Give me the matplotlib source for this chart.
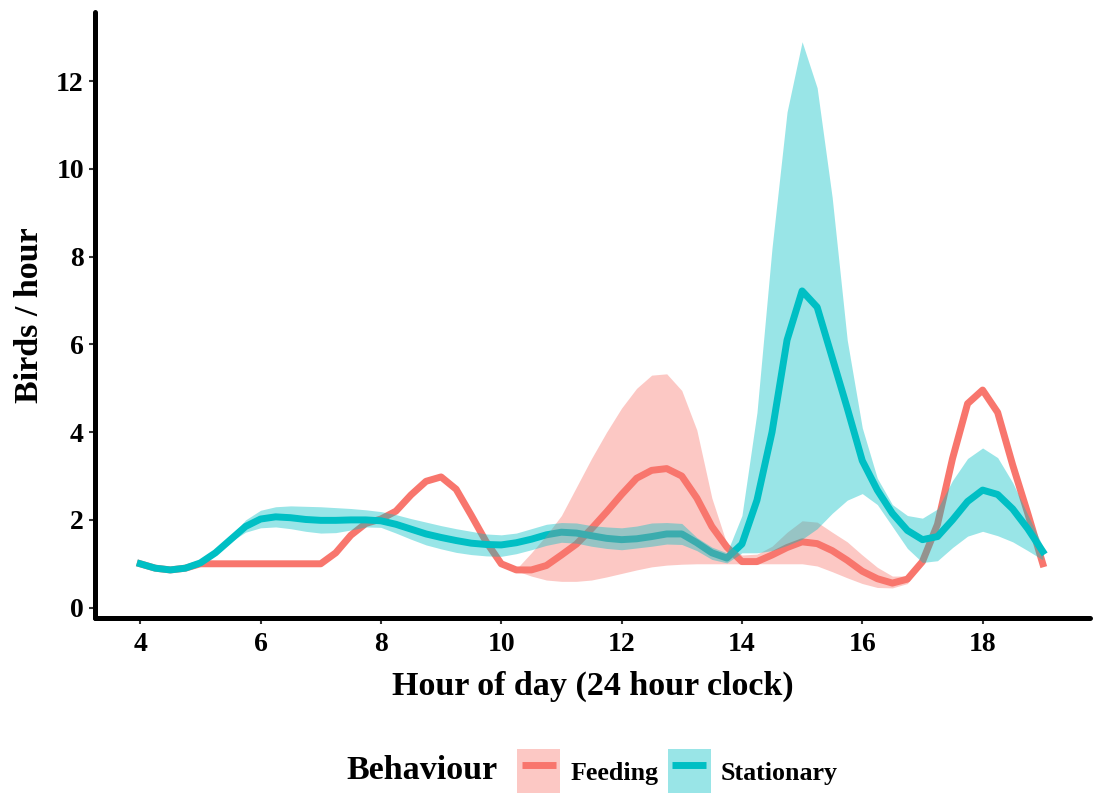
import numpy as np
import matplotlib.pyplot as plt
from matplotlib.patches import Patch
from matplotlib.lines import Line2D
from matplotlib.legend_handler import HandlerLine2D, HandlerTuple

############### Data (0.25 h steps)
hours = np.arange(4, 19.01, 0.25)

feeding = [1.0, 0.9, 0.86, 0.9, 1.0, 1.0, 1.0, 1.0, 1.0, 1.0, 1.0, 1.0,
           1.0, 1.25, 1.65, 1.92, 2.02, 2.2, 2.57, 2.88, 2.98, 2.7, 2.11, 1.5,
           1.0, 0.86, 0.86, 0.96, 1.2, 1.45, 1.8, 2.18, 2.58, 2.95, 3.13, 3.17,
           3.0, 2.5, 1.85, 1.38, 1.05, 1.05, 1.2, 1.37, 1.5, 1.46, 1.3, 1.08,
           0.83, 0.66, 0.56, 0.65, 1.05, 1.9, 3.4, 4.65, 4.96, 4.45, 3.25, 2.15,
           1.0]
feeding_hi = [1.0, 0.9, 0.86, 0.9, 1.0, 1.0, 1.0, 1.0, 1.0, 1.0, 1.0, 1.0,
              1.0, 1.25, 1.65, 1.92, 2.02, 2.2, 2.57, 2.88, 2.98, 2.7, 2.11, 1.5,
              1.0, 0.88, 1.25, 1.65, 2.1, 2.75, 3.4, 4.0, 4.55, 5.0, 5.3, 5.33,
              4.95, 4.05, 2.5, 1.45, 1.2, 1.22, 1.4, 1.72, 1.98, 1.95, 1.72, 1.5,
              1.2, 0.92, 0.72, 0.72, 1.05, 1.9, 3.4, 4.65, 4.96, 4.45, 3.25, 2.15,
              1.0]
feeding_lo = [1.0, 0.9, 0.86, 0.9, 1.0, 1.0, 1.0, 1.0, 1.0, 1.0, 1.0, 1.0,
              1.0, 1.25, 1.65, 1.92, 2.02, 2.2, 2.57, 2.88, 2.98, 2.7, 2.11, 1.5,
              1.0, 0.84, 0.72, 0.63, 0.6, 0.6, 0.63, 0.7, 0.78, 0.86, 0.93, 0.97,
              0.99, 1.0, 1.0, 1.0, 1.0, 1.0, 1.0, 1.0, 1.0, 0.95, 0.82, 0.68,
              0.55, 0.46, 0.45, 0.55, 1.05, 1.9, 3.4, 4.65, 4.96, 4.45, 3.25, 2.15,
              1.0]

stationary = [1.0, 0.9, 0.86, 0.9, 1.02, 1.25, 1.55, 1.85, 2.02, 2.07, 2.05, 2.01,
              1.99, 1.99, 2.0, 2.0, 1.98, 1.9, 1.79, 1.68, 1.6, 1.53, 1.47, 1.44,
              1.43, 1.48, 1.56, 1.66, 1.72, 1.7, 1.64, 1.58, 1.55, 1.57, 1.62, 1.68,
              1.68, 1.48, 1.25, 1.13, 1.45, 2.45, 4.0, 6.1, 7.22, 6.85, 5.7, 4.55,
              3.35, 2.68, 2.15, 1.76, 1.55, 1.62, 2.0, 2.42, 2.68, 2.58, 2.25, 1.8,
              1.28]
stationary_hi = [1.0, 0.9, 0.86, 0.9, 1.02, 1.25, 1.6, 2.0, 2.22, 2.3, 2.32, 2.31,
                 2.3, 2.28, 2.26, 2.23, 2.19, 2.12, 2.03, 1.95, 1.87, 1.8, 1.74, 1.68,
                 1.66, 1.7, 1.8, 1.9, 1.94, 1.93, 1.87, 1.84, 1.82, 1.86, 1.93, 1.94,
                 1.92, 1.6, 1.38, 1.25, 2.1, 4.45, 8.2, 11.3, 12.9, 11.85, 9.35, 6.1,
                 4.1, 2.95, 2.35, 2.1, 2.04, 2.25, 2.9, 3.4, 3.64, 3.42, 2.85, 2.12,
                 1.4]
stationary_lo = [1.0, 0.9, 0.86, 0.9, 1.02, 1.25, 1.5, 1.72, 1.82, 1.84, 1.8, 1.74,
                 1.7, 1.71, 1.77, 1.84, 1.83, 1.7, 1.56, 1.43, 1.34, 1.26, 1.21, 1.18,
                 1.17, 1.23, 1.32, 1.42, 1.49, 1.47, 1.4, 1.35, 1.32, 1.36, 1.4, 1.45,
                 1.44, 1.3, 1.1, 1.02, 1.25, 1.25, 1.3, 1.42, 1.56, 1.8, 2.15, 2.45,
                 2.6, 2.35, 1.85, 1.35, 1.03, 1.07, 1.37, 1.63, 1.74, 1.64, 1.5, 1.3,
                 1.09]

red = '#F8766D'
teal = '#00BFC4'


# legend line centred in the key box
class CentredLine(HandlerLine2D):
    def get_ydata(self, legend, xdescent, ydescent, width, height, fontsize):
        return np.full(2, height / 2 - ydescent)

    def get_xdata(self, legend, xdescent, ydescent, width, height, fontsize):
        return np.array([-xdescent + 0.1 * width, -xdescent + 0.9 * width]), None


############### Figure
plt.rcParams['font.family'] = ['Liberation Serif', 'DejaVu Serif']
plt.rcParams['font.weight'] = 'bold'

fig = plt.figure(figsize=(10.93, 7.93), dpi=100)
ax = fig.add_axes([0.087, 0.221, 0.91, 0.764])

# lines first, ribbons on top (as in the original)
ax.plot(hours, feeding, color=red, lw=5, zorder=1)
ax.plot(hours, stationary, color=teal, lw=5, zorder=1)
ax.fill_between(hours, feeding_lo, feeding_hi, color=red, alpha=0.4, lw=0, zorder=2)
ax.fill_between(hours, stationary_lo, stationary_hi, color=teal, alpha=0.4, lw=0, zorder=3)

ax.set_xlim(3.25, 19.78)
ax.set_ylim(-0.23, 13.58)
ax.set_xticks([4, 6, 8, 10, 12, 14, 16, 18])
ax.set_yticks([0, 2, 4, 6, 8, 10, 12])

for s in ['top', 'right']:
    ax.spines[s].set_visible(False)
for s in ['left', 'bottom']:
    ax.spines[s].set_linewidth(3.6)
    ax.spines[s].set_color('black')
    ax.spines[s].set_capstyle('round')

ax.tick_params(length=4, width=1.5, color='#333333', labelsize=20, labelcolor='black')
ax.tick_params(axis='x', pad=6)
ax.tick_params(axis='y', pad=4)
for lab in ax.get_xticklabels() + ax.get_yticklabels():
    lab.set_fontweight('bold')

ax.set_xlabel('Hour of day (24 hour clock)', fontsize=24.5, fontweight='bold', labelpad=10)
ax.set_ylabel('Birds / hour', fontsize=24.5, fontweight='bold', labelpad=8)

############### Legend
line_f = Line2D([], [], color=red, lw=5, solid_capstyle='butt')
line_s = Line2D([], [], color=teal, lw=5, solid_capstyle='butt')
handles = [(Patch(facecolor=red, alpha=0.4, lw=0), line_f),
           (Patch(facecolor=teal, alpha=0.4, lw=0), line_s)]
fig.legend(handles, ['Feeding', 'Stationary'], loc='center', bbox_to_anchor=(0.62, 0.027),
           ncol=2, frameon=False, prop={'size': 18.7, 'weight': 'bold'},
           handlelength=1.65, handleheight=2.25, handletextpad=0.4, columnspacing=0.35,
           borderaxespad=0, borderpad=0,
           handler_map={Line2D: CentredLine(), tuple: HandlerTuple(ndivide=1)})
fig.text(0.317, 0.028, 'Behaviour', fontsize=24.5, fontweight='bold', va='center', ha='left')

fig.savefig('out.png', dpi=100)
